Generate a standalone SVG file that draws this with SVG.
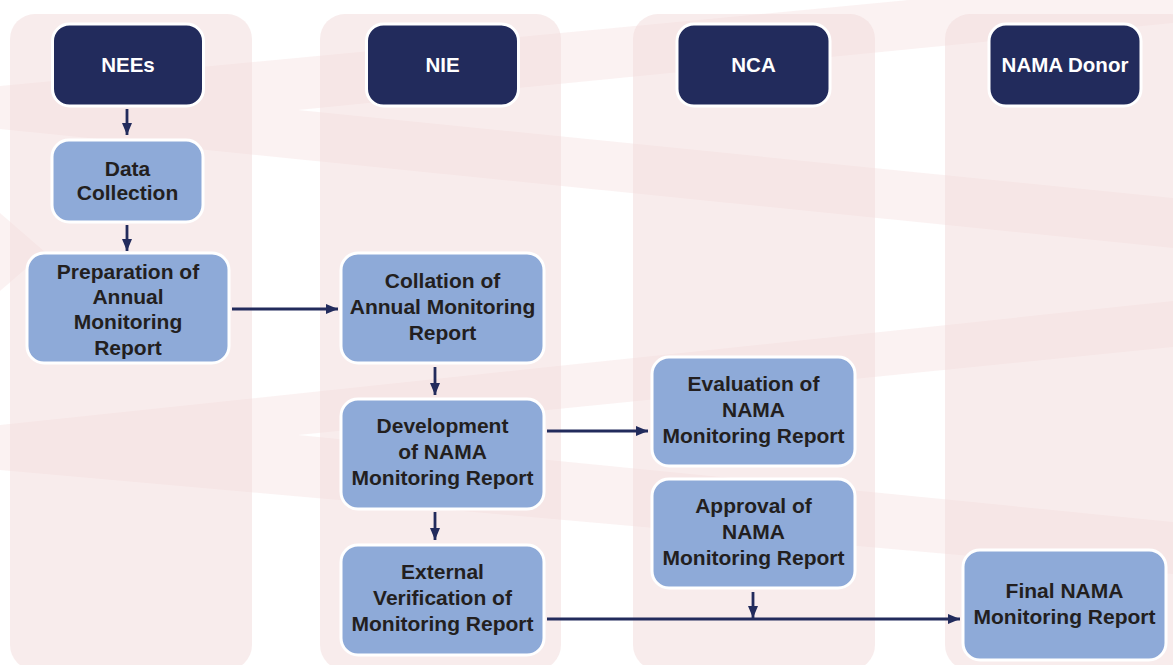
<svg xmlns="http://www.w3.org/2000/svg" width="1173" height="665" viewBox="0 0 1173 665">
<defs>
<style>
.band{fill:#f3d8d8;opacity:0.32}
.lane{fill:#f2dada;opacity:0.5}
.hdr{fill:#222b5c;stroke:#ffffff;stroke-width:3}
.box{fill:#8eaad8;stroke:#ffffff;stroke-width:3}
.ht{font-family:"Liberation Sans",Arial,sans-serif;font-weight:bold;font-size:20.5px;fill:#ffffff;text-anchor:middle}
.bt{font-family:"Liberation Sans",Arial,sans-serif;font-weight:bold;font-size:21px;fill:#231f20;text-anchor:middle}
.conn{stroke:#222b5c;stroke-width:2.8;fill:none}
</style>
<marker id="arr" markerUnits="userSpaceOnUse" markerWidth="13" markerHeight="11" refX="12" refY="5" orient="auto">
<path d="M0,0 L12,5 L0,10 Z" fill="#222b5c"/>
</marker>
</defs>
<rect width="1173" height="665" fill="#ffffff"/>
<g id="background">
<polygon class="band" points="0,86 1173,-25 1173,23 298,110 1173,198 1173,248 0,129"/>
<polygon class="band" points="0,425 1173,301 1173,347 298,435 1173,522 1173,574 0,470"/>
<polygon class="band" points="0,213 45,252 0,291"/>
<rect class="lane" x="10" y="14" width="242" height="656" rx="25"/>
<rect class="lane" x="320" y="14" width="241" height="656" rx="25"/>
<rect class="lane" x="633" y="14" width="242" height="656" rx="25"/>
<rect class="lane" x="945" y="14" width="250" height="656" rx="25"/>
</g>
<g id="connectors">
<line class="conn" x1="127" y1="109" x2="127" y2="135" marker-end="url(#arr)"/>
<line class="conn" x1="127" y1="225" x2="127" y2="251" marker-end="url(#arr)"/>
<line class="conn" x1="232" y1="309" x2="338" y2="309" marker-end="url(#arr)"/>
<line class="conn" x1="435" y1="367" x2="435" y2="395" marker-end="url(#arr)"/>
<line class="conn" x1="547" y1="431" x2="648" y2="431" marker-end="url(#arr)"/>
<line class="conn" x1="435" y1="512" x2="435" y2="540" marker-end="url(#arr)"/>
<line class="conn" x1="547" y1="619" x2="960" y2="619" marker-end="url(#arr)"/>
<line class="conn" x1="753" y1="592" x2="753" y2="618" marker-end="url(#arr)"/>
</g>
<g id="nees">
<rect class="hdr" x="52.5" y="24" width="151" height="82" rx="17"/>
<text class="ht" x="128" y="72">NEEs</text>
</g>
<g id="nie">
<rect class="hdr" x="366.5" y="24" width="152" height="82" rx="17"/>
<text class="ht" x="442.5" y="72">NIE</text>
</g>
<g id="nca">
<rect class="hdr" x="677" y="24" width="153" height="82" rx="17"/>
<text class="ht" x="753.5" y="72">NCA</text>
</g>
<g id="nama-donor">
<rect class="hdr" x="989" y="24" width="152" height="82" rx="17"/>
<text class="ht" x="1065" y="72">NAMA Donor</text>
</g>
<g id="data-collection">
<rect class="box" x="52" y="140" width="151" height="82" rx="17"/>
<text class="bt" x="127.5" y="176">Data</text>
<text class="bt" x="127.5" y="200">Collection</text>
</g>
<g id="preparation">
<rect class="box" x="27" y="253" width="202" height="110" rx="17"/>
<text class="bt" x="128" y="279">Preparation of</text>
<text class="bt" x="128" y="304">Annual</text>
<text class="bt" x="128" y="329">Monitoring</text>
<text class="bt" x="128" y="355">Report</text>
</g>
<g id="collation">
<rect class="box" x="341" y="253" width="203" height="110" rx="17"/>
<text class="bt" x="442.5" y="288">Collation of</text>
<text class="bt" x="442.5" y="314">Annual Monitoring</text>
<text class="bt" x="442.5" y="340">Report</text>
</g>
<g id="development">
<rect class="box" x="341" y="399" width="203" height="110" rx="17"/>
<text class="bt" x="442.5" y="433">Development</text>
<text class="bt" x="442.5" y="459">of NAMA</text>
<text class="bt" x="442.5" y="485">Monitoring Report</text>
</g>
<g id="external-verification">
<rect class="box" x="341" y="545" width="203" height="110" rx="17"/>
<text class="bt" x="442.5" y="579">External</text>
<text class="bt" x="442.5" y="605">Verification of</text>
<text class="bt" x="442.5" y="631">Monitoring Report</text>
</g>
<g id="evaluation">
<rect class="box" x="652" y="357" width="203" height="109" rx="17"/>
<text class="bt" x="753.5" y="391">Evaluation of</text>
<text class="bt" x="753.5" y="417">NAMA</text>
<text class="bt" x="753.5" y="443">Monitoring Report</text>
</g>
<g id="approval">
<rect class="box" x="652" y="479" width="203" height="109" rx="17"/>
<text class="bt" x="753.5" y="513">Approval of</text>
<text class="bt" x="753.5" y="539">NAMA</text>
<text class="bt" x="753.5" y="565">Monitoring Report</text>
</g>
<g id="final-report">
<rect class="box" x="963" y="550" width="203" height="110" rx="17"/>
<text class="bt" x="1064.5" y="598">Final NAMA</text>
<text class="bt" x="1064.5" y="624">Monitoring Report</text>
</g>
</svg>
